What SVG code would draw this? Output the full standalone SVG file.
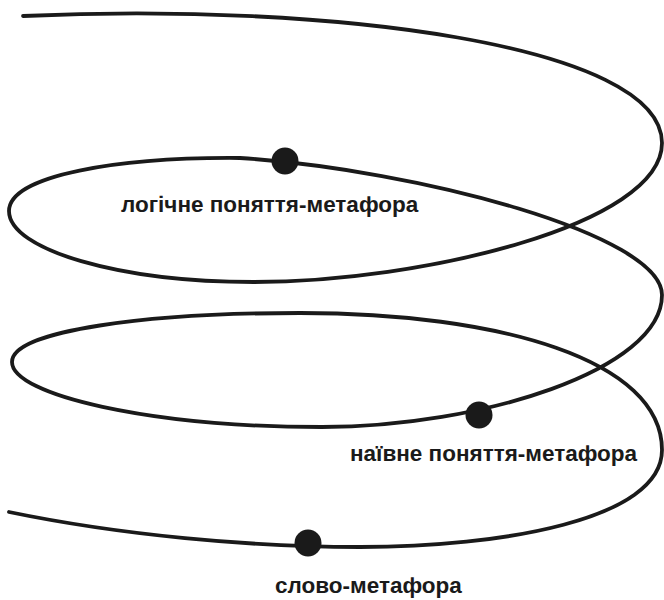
<svg xmlns="http://www.w3.org/2000/svg" width="664" height="600" viewBox="0 0 664 600">
<style>
.curve{fill:none;stroke:#1a1a1a;stroke-width:3.8;stroke-linecap:round;stroke-linejoin:round}
.dot{fill:#1a1a1a}
.lbl{font-family:"Liberation Sans",Arial,sans-serif;font-weight:bold;font-size:22.5px;fill:#1a1a1a}
</style>
<rect width="664" height="600" fill="#ffffff"/>
<g id="connectors">
<path class="curve" d="M23,16 C330,2 662,45 662,143 C662,225 420,282 254,282 C120,282 9,250 9,211 C9,175 120,157 240,158 C420,170 662,235 662,295 C662,370 480,427 322,427 C150,427 12,395 12,362 C12,330 150,313 300,313 C500,313 662,360 662,450 C662,520 500,547 360,547 C250,547 120,535 9,512"/>
</g>
<g id="node-logical">
<circle class="dot" cx="285" cy="161" r="13.5"/>
<text class="lbl" x="121" y="212">логічне поняття-метафора</text>
</g>
<g id="node-naive">
<circle class="dot" cx="479" cy="415" r="13.5"/>
<text class="lbl" x="350" y="461">наївне поняття-метафора</text>
</g>
<g id="node-word">
<circle class="dot" cx="308" cy="543" r="13.5"/>
<text class="lbl" x="275" y="593">слово-метафора</text>
</g>
</svg>
